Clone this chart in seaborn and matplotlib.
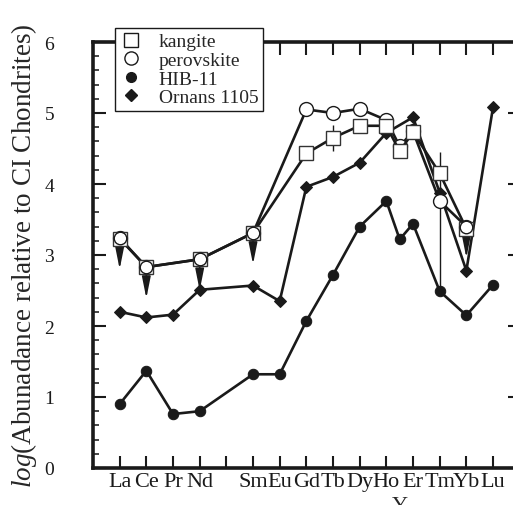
import numpy as np
import pandas as pd
import matplotlib
matplotlib.use("Agg")
import matplotlib.pyplot as plt
import matplotlib.transforms as mtransforms
from matplotlib.lines import Line2D
from matplotlib.ticker import MultipleLocator
import seaborn as sns

# ---------------- data ----------------
tick_elements = ["La", "Ce", "Pr", "Nd", "Pm", "Sm", "Eu", "Gd", "Tb", "Dy", "Ho", "Er", "Tm", "Yb", "Lu"]
tick_labels = ["La", "Ce", "Pr", "Nd", "", "Sm", "Eu", "Gd", "Tb", "Dy", "Ho", "Er", "Tm", "Yb", "Lu"]
extra_element = "Y"  # plotted between Ho and Er

kangite_el = ["La", "Ce", "Nd", "Sm", "Gd", "Tb", "Dy", "Ho", "Y", "Er", "Tm", "Yb"]
kangite_val = [3.23, 2.83, 2.94, 3.31, 4.43, 4.65, 4.82, 4.82, 4.46, 4.73, 4.15, 3.37]

perovskite_el = ["La", "Ce", "Nd", "Sm", "Gd", "Tb", "Dy", "Ho", "Y", "Er", "Tm", "Yb"]
perovskite_val = [3.24, 2.83, 2.94, 3.31, 5.05, 5.00, 5.06, 4.90, 4.53, 4.74, 3.76, 3.40]

hib_el = ["La", "Ce", "Pr", "Nd", "Sm", "Eu", "Gd", "Tb", "Dy", "Ho", "Y", "Er", "Tm", "Yb", "Lu"]
hib_val = [0.90, 1.37, 0.76, 0.80, 1.32, 1.32, 2.07, 2.72, 3.40, 3.76, 3.22, 3.44, 2.49, 2.15, 2.58]

ornans_el = ["La", "Ce", "Pr", "Nd", "Sm", "Eu", "Gd", "Tb", "Dy", "Ho", "Er", "Tm", "Yb", "Lu"]
ornans_val = [2.20, 2.12, 2.16, 2.51, 2.57, 2.35, 3.96, 4.10, 4.30, 4.72, 4.94, 3.88, 2.78, 5.08]

# upper-limit elements (kangite / perovskite)
limit_el = ["La", "Ce", "Nd", "Sm", "Yb"]

# kangite error bars: element, lower, upper
kang_err_el = ["Tb", "Tm"]
kang_err_lo = [0.18, 1.65]
kang_err_hi = [0.18, 0.30]

# ---------------- positions ----------------
pos = {el: i + 1 for i, el in enumerate(tick_elements)}
pos[extra_element] = pos["Ho"] + 0.5

def frame(els, vals, name):
    return pd.DataFrame({"x": [pos[e] for e in els], "value": vals, "series": name, "el": els})

df_k = frame(kangite_el, kangite_val, "kangite")
df_p = frame(perovskite_el, perovskite_val, "perovskite")
df_h = frame(hib_el, hib_val, "HIB-11")
df_o = frame(ornans_el, ornans_val, "Ornans 1105")

# ---------------- style ----------------
sns.set_theme(style="ticks")
plt.rcParams["font.family"] = ["Liberation Serif", "DejaVu Serif"]
plt.rcParams["mathtext.fontset"] = "custom"
plt.rcParams["mathtext.it"] = "Liberation Serif:italic"
plt.rcParams["mathtext.rm"] = "Liberation Serif"

W, H = 513, 506
fig = plt.figure(figsize=(W / 100, H / 100), dpi=100)
x0, x1 = 93, 519.7
y0, y1 = 469, 43
ax = fig.add_axes([x0 / W, 1 - y0 / H, (x1 - x0) / W, (y0 - y1) / H])

lw = 1.9
common = dict(color="k", linewidth=lw, sort=False, estimator=None, legend=False, ax=ax)

# Ornans
sns.lineplot(data=df_o, x="x", y="value", marker="D", markersize=6.5,
             markerfacecolor="k", markeredgecolor="k", zorder=3, **common)
# HIB-11
sns.lineplot(data=df_h, x="x", y="value", marker="o", markersize=7.5,
             markerfacecolor="k", markeredgecolor="k", zorder=3, **common)

# upper-limit arrows
for el in limit_el:
    xv = pos[el]
    yv = df_p.loc[df_p.el == el, "value"].values[0]
    ax.annotate("", xy=(xv, yv - 0.44), xytext=(xv, yv),
                arrowprops=dict(arrowstyle="-|>,head_length=0.65,head_width=0.13",
                                color="k", lw=1.2, mutation_scale=20,
                                shrinkA=0, shrinkB=0),
                zorder=2)

# kangite error bars
ex = [pos[e] for e in kang_err_el]
ey = [df_k.loc[df_k.el == e, "value"].values[0] for e in kang_err_el]
ax.errorbar(ex, ey, yerr=[kang_err_lo, kang_err_hi], fmt="none",
            ecolor="k", elinewidth=1.0, capsize=0, zorder=2)

# perovskite
sns.lineplot(data=df_p, x="x", y="value", marker="o", markersize=10,
             markerfacecolor="white", markeredgecolor="k", markeredgewidth=1.0,
             zorder=4, **common)
# kangite
sns.lineplot(data=df_k, x="x", y="value", marker="s", markersize=9.5,
             markerfacecolor="white", markeredgecolor="#333333", markeredgewidth=1.0,
             zorder=5, **common)
# perovskite limit points drawn on top
df_pl = df_p[df_p.el.isin(limit_el)]
ax.plot(df_pl.x, df_pl.value, ls="none", marker="o", ms=9,
        mfc="white", mec="k", mew=1.0, zorder=6)

# ---------------- axes ----------------
ax.set_xlim(0, 16)
ax.set_ylim(0, 6)
ax.set_xticks(range(1, 16))
ax.set_xticklabels(tick_labels)
ax.set_yticks(range(0, 7))
ax.yaxis.set_minor_locator(MultipleLocator(0.2))
ax.set_xlabel("")
ax.set_ylabel(r"$\mathit{log}$(Abunadance relative to CI Chondrites)", fontsize=19.5, labelpad=4)

ax.tick_params(axis="x", which="major", direction="in", length=9, width=1.5,
               top=True, bottom=True, labelsize=16, pad=3, colors="k")
ax.tick_params(axis="y", which="major", direction="in", length=9, width=1.5,
               left=True, right=True, labelsize=14, pad=28, colors="k")
ax.tick_params(axis="y", which="minor", direction="in", length=4.5, width=1.2,
               left=True, right=True)
for s in ax.spines.values():
    s.set_linewidth(2.6)
    s.set_color("k")

trans = mtransforms.blended_transform_factory(ax.transData, ax.transAxes)
ax.text(pos[extra_element], -0.066, extra_element, transform=trans,
        ha="center", va="top", fontsize=16)

# ---------------- legend ----------------
handles = [
    Line2D([], [], ls="none", marker="s", ms=9.5, mfc="white", mec="k", mew=1.0),
    Line2D([], [], ls="none", marker="o", ms=9.5, mfc="white", mec="k", mew=1.0),
    Line2D([], [], ls="none", marker="o", ms=7, mfc="k", mec="k"),
    Line2D([], [], ls="none", marker="D", ms=6, mfc="k", mec="k"),
]
labels = ["kangite", "perovskite", "HIB-11", "Ornans 1105"]
leg = ax.legend(handles, labels, loc="upper left",
                bbox_to_anchor=(115 / W, 1 - 29 / H), bbox_transform=fig.transFigure,
                borderaxespad=0, fontsize=14, frameon=True, fancybox=False,
                framealpha=1, edgecolor="k", handlelength=1.1, handletextpad=0.9,
                labelspacing=0.05, borderpad=0.25)
leg.get_frame().set_linewidth(1.0)
leg.set_zorder(10)

fig.savefig("out.png", dpi=100)
